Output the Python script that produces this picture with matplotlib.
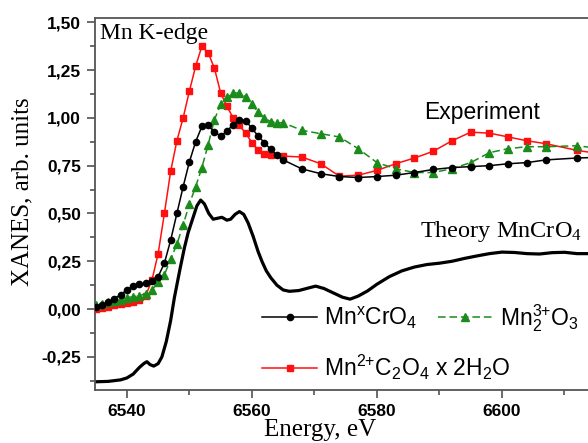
import matplotlib
matplotlib.use('Agg')
import matplotlib.pyplot as plt
from matplotlib.ticker import MultipleLocator, FuncFormatter

plt.rcParams['mathtext.default'] = 'regular'

# ---- data ----
e_black = [6535, 6536, 6537, 6538, 6539, 6540, 6541, 6542, 6543, 6544, 6545, 6546, 6547, 6548,
           6549, 6550, 6551, 6552, 6553, 6554, 6555, 6556, 6557, 6558, 6559, 6560, 6561, 6562,
           6563, 6564, 6565, 6568, 6571, 6574, 6577, 6580, 6583, 6586, 6589, 6592, 6595, 6598,
           6601, 6604, 6607, 6612, 6617]
y_black = [0.01, 0.02, 0.035, 0.055, 0.075, 0.10, 0.12, 0.13, 0.135, 0.145, 0.17, 0.24, 0.36, 0.50,
           0.64, 0.77, 0.875, 0.955, 0.96, 0.925, 0.905, 0.93, 0.965, 0.99, 0.985, 0.945, 0.905, 0.87,
           0.835, 0.805, 0.78, 0.733, 0.708, 0.693, 0.688, 0.693, 0.70, 0.714, 0.73, 0.74, 0.745, 0.75,
           0.76, 0.766, 0.78, 0.79, 0.795]

e_red = [6535, 6536, 6537, 6538, 6539, 6540, 6541, 6542, 6543, 6544, 6545, 6546, 6547, 6548,
         6549, 6550, 6551, 6552, 6553, 6554, 6555, 6556, 6557, 6558, 6559, 6560, 6561, 6562,
         6563, 6565, 6568, 6571, 6574, 6577, 6580, 6583, 6586, 6589, 6592, 6595, 6598, 6601,
         6604, 6607, 6612, 6617]
y_red = [0.00, 0.005, 0.01, 0.02, 0.025, 0.03, 0.035, 0.045, 0.07, 0.15, 0.29, 0.50, 0.72, 0.88,
         1.00, 1.14, 1.27, 1.375, 1.34, 1.26, 1.13, 1.06, 1.00, 0.96, 0.92, 0.87, 0.83, 0.81,
         0.805, 0.80, 0.795, 0.76, 0.695, 0.70, 0.725, 0.76, 0.79, 0.825, 0.88, 0.925, 0.92, 0.90,
         0.88, 0.865, 0.83, 0.805]

e_green = [6535, 6536, 6537, 6538, 6539, 6540, 6541, 6542, 6543, 6544, 6545, 6546, 6547, 6548,
           6549, 6550, 6551, 6552, 6553, 6554, 6555, 6556, 6557, 6558, 6559, 6560, 6561, 6562,
           6563, 6564, 6565, 6568, 6571, 6574, 6577, 6580, 6583, 6586, 6589, 6592, 6595, 6598,
           6601, 6604, 6607, 6612, 6617]
y_green = [0.02, 0.025, 0.035, 0.04, 0.05, 0.06, 0.065, 0.07, 0.08, 0.10, 0.14, 0.18, 0.26, 0.34,
           0.44, 0.55, 0.64, 0.74, 0.86, 0.99, 1.07, 1.11, 1.13, 1.13, 1.11, 1.07, 1.03, 1.00,
           0.98, 0.974, 0.974, 0.935, 0.917, 0.90, 0.839, 0.766, 0.734, 0.714, 0.714, 0.734, 0.766, 0.818,
           0.839, 0.849, 0.849, 0.854, 0.835]

e_theory = [6535, 6537, 6539, 6540, 6541, 6542, 6542.7, 6543.2, 6543.7, 6544.3, 6545, 6545.6,
            6546.3, 6547, 6547.6, 6548.5, 6549.2, 6549.8, 6550.6, 6551.2, 6551.8, 6552.4, 6553.1,
            6553.8, 6554.5, 6555.2, 6556, 6556.6, 6557.3, 6558, 6558.7, 6559.4, 6560.2, 6561,
            6561.6, 6562.3, 6563, 6564, 6565, 6566, 6567.5, 6569, 6570.2, 6571.5, 6573, 6574.5,
            6575.7, 6577, 6578.5, 6580, 6582, 6584, 6586, 6588, 6590, 6592, 6594, 6596, 6598,
            6600, 6602, 6604, 6606, 6608, 6610, 6612, 6614, 6617]
y_theory = [-0.38, -0.378, -0.37, -0.36, -0.34, -0.305, -0.285, -0.275, -0.29, -0.298, -0.285, -0.25,
            -0.17, -0.06, 0.06, 0.21, 0.32, 0.40, 0.48, 0.54, 0.57, 0.55, 0.50,
            0.47, 0.475, 0.48, 0.465, 0.47, 0.495, 0.51, 0.495, 0.45, 0.38, 0.30,
            0.25, 0.20, 0.165, 0.125, 0.10, 0.093, 0.097, 0.11, 0.12, 0.108, 0.085, 0.062,
            0.052, 0.068, 0.095, 0.13, 0.17, 0.20, 0.22, 0.233, 0.24, 0.25, 0.265, 0.278, 0.29,
            0.298, 0.296, 0.29, 0.288, 0.295, 0.297, 0.29, 0.29, 0.28]

x_ticks = [6540, 6560, 6580, 6600]
y_ticks = [-0.25, 0.00, 0.25, 0.50, 0.75, 1.00, 1.25, 1.50]

lbl_black = 'Mn$^{x}$CrO$_{4}$'
lbl_green = 'Mn$_{2}^{3{+}}$O$_{3}$'
lbl_red = 'Mn$^{2{+}}$C$_{2}$O$_{4}$ x 2H$_{2}$O'

W, H = 588, 443
fig = plt.figure(figsize=(W / 100, H / 100), dpi=100)
ax = fig.add_axes([95 / W, 1 - 390 / H, 532 / W, 372 / H])

ax.plot(e_theory, y_theory, color='black', lw=2.3, zorder=2)
hb, = ax.plot(e_black, y_black, '-o', color='black', ms=4.5, lw=1.1, zorder=4)
hr, = ax.plot(e_red, y_red, '-s', color='#ff1010', ms=4.0, lw=1.1, zorder=3)
hg, = ax.plot(e_green, y_green, '--^', color='#1b8c1b', ms=5.2, lw=1.1, dashes=(5, 2.5), zorder=3)

ax.set_xlim(6534.9, 6620)
ax.set_ylim(-0.423, 1.522)
ax.set_xticks(x_ticks)
ax.set_yticks(y_ticks)
ax.xaxis.set_minor_locator(MultipleLocator(10))
ax.yaxis.set_minor_locator(MultipleLocator(0.125))
ax.yaxis.set_major_formatter(FuncFormatter(lambda v, p: f'{v:.2f}'.replace('.', ',')))
ax.tick_params(which='major', direction='out', length=6, width=1.1, color='#444444', pad=4)
ax.tick_params(which='minor', direction='out', length=3.5, width=1.1, color='#444444')
for lab in ax.get_xticklabels() + ax.get_yticklabels():
    lab.set_fontfamily('Liberation Sans')
    lab.set_fontweight('bold')
    lab.set_fontsize(12.5)
for s in ax.spines.values():
    s.set_color('#555555')
    s.set_linewidth(1.3)

fig.text(100 / W, 1 - 39 / H, 'Mn K-edge', family='Liberation Serif', size=17, va='baseline')
fig.text(424 / W, 1 - 119 / H, 'Experiment', family='Liberation Sans', size=16.5, va='baseline')
fig.text(420 / W, 1 - 237 / H, 'Theory MnCrO$_{4}$', family='Liberation Serif', size=17.5, va='baseline')
fig.text(320 / W, 1 - 430 / H, 'Energy, eV', family='Liberation Serif', size=18, ha='center', va='center')
fig.text(22 / W, 1 - 192 / H, 'XANES, arb. units', family='Liberation Serif', size=18,
         rotation=90, ha='center', va='center')

prop = {'family': 'Liberation Sans', 'size': 16.5}
common = dict(frameon=False, borderpad=0, borderaxespad=0, handlelength=2.4, handletextpad=0.3,
              numpoints=1, prop=prop, loc='center left')
fig.legend([hb, hg], [lbl_black, lbl_green], ncol=2, columnspacing=0.9,
           bbox_to_anchor=(262 / W, 1 - 318 / H), **common)
fig.legend([hr], [lbl_red], bbox_to_anchor=(262 / W, 1 - 367 / H), **common)

fig.savefig('out.png', dpi=100)
